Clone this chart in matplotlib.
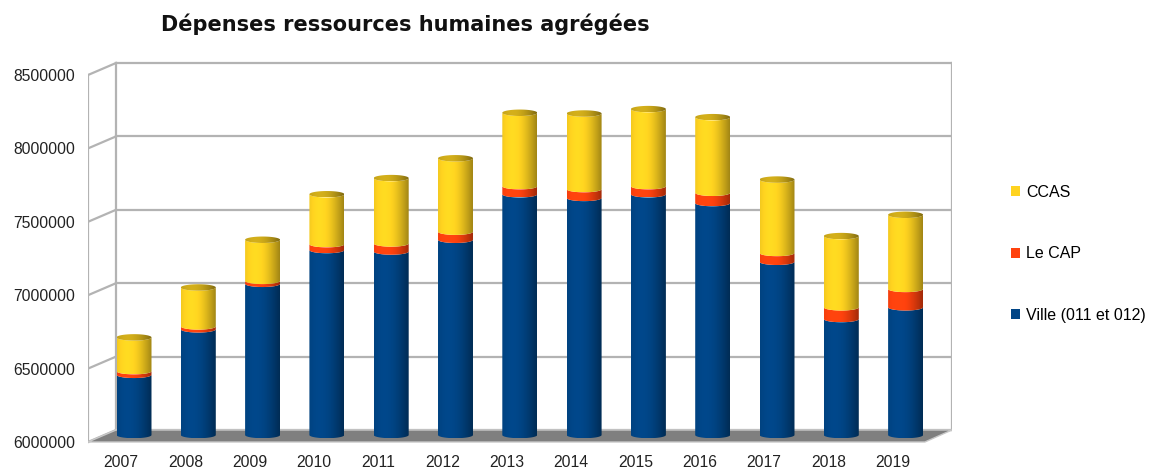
import matplotlib
matplotlib.use("Agg")
import matplotlib.pyplot as plt
import matplotlib.colors as mcolors
from matplotlib.patches import Polygon, Patch
import numpy as np

# values (euros)
years = [2007, 2008, 2009, 2010, 2011, 2012, 2013, 2014, 2015, 2016, 2017, 2018, 2019]
ville = [6410000, 6720000, 7030000, 7260000, 7250000, 7330000, 7640000, 7615000, 7640000, 7580000, 7180000, 6790000, 6870000]
le_cap = [25000, 20000, 20000, 40000, 55000, 55000, 55000, 60000, 55000, 70000, 60000, 80000, 125000]
ccas = [230000, 265000, 280000, 340000, 445000, 500000, 500000, 515000, 525000, 515000, 500000, 485000, 505000]
y_ticks = [6000000, 6500000, 7000000, 7500000, 8000000, 8500000]

series = [("Ville (011 et 012)", ville, "#004586"),
          ("Le CAP", le_cap, "#ff420e"),
          ("CCAS", ccas, "#ffd320")]

W, H = 1159, 473
fig = plt.figure(figsize=(W / 100, H / 100), dpi=100, facecolor="white")
ax = fig.add_axes([88 / W, (H - 445) / H, (952 - 88) / W, (445 - 60) / H])

# fake 3d geometry (in data units)
x_front, x_back = -0.7154, -0.28
x_right_back, x_right_front = 12.72, 12.30
back_dy = 34000      # back wall offset
front_dy = -47700    # front edge offset
grid_col = "#b3b3b3"

# back wall gridlines + frame
for v in y_ticks:
    ax.plot([x_back, x_right_back], [v + back_dy] * 2, color=grid_col, lw=1.6, zorder=1)
    ax.plot([x_front, x_back], [v + front_dy, v + back_dy], color=grid_col, lw=1.6, zorder=1)
ax.plot([x_back, x_back], [y_ticks[0] + back_dy, y_ticks[-1] + back_dy], color=grid_col, lw=1.6, zorder=1)
ax.plot([x_right_back, x_right_back], [y_ticks[0] + back_dy, y_ticks[-1] + back_dy], color=grid_col, lw=1.6, zorder=1)
ax.plot([x_front, x_front], [y_ticks[0] + front_dy, y_ticks[-1] + front_dy], color=grid_col, lw=1.6, zorder=1)

# floor
floor = Polygon([(x_front, y_ticks[0] + front_dy), (x_back, y_ticks[0] + back_dy),
                 (x_right_back, y_ticks[0] + back_dy), (x_right_front, y_ticks[0] + front_dy)],
                closed=True, facecolor="#7f7f7f", edgecolor="#c8c8c8", lw=1, zorder=2)
ax.add_patch(floor)


def shade(color, n=80, dark=1.0):
    # horizontal light profile of a cylinder: bright left-centre, dark right edge
    rgb = np.array(mcolors.to_rgb(color))
    t = np.linspace(0, 1, n)
    m = 0.62 + 0.42 * np.cos((t - 0.3) * np.pi * 0.7)
    m = np.clip(m * dark, 0, 1.04)
    row = np.clip(rgb[None, :] * m[:, None], 0, 1)
    return row[None, :, :]


hw = 0.272
ry = 22000
base = y_ticks[0]

for i in range(len(years)):
    total = 0
    for k, (name, vals, col) in enumerate(series):
        bottom = max(total, base)
        total += vals[i]
        top = total
        th = np.linspace(np.pi, 2 * np.pi, 60)
        bx = i + hw * np.cos(th)
        pts = np.vstack([np.column_stack([bx, bottom + ry * np.sin(th)]),
                         np.column_stack([bx[::-1], top + ry * np.sin(th[::-1])])])
        clip = Polygon(pts, closed=True, facecolor="none", edgecolor="none", transform=ax.transData)
        ax.add_patch(clip)
        im = ax.imshow(shade(col), extent=[i - hw, i + hw, bottom - ry, top + ry],
                       aspect="auto", origin="lower", interpolation="bilinear", zorder=3)
        im.set_clip_path(clip)
        if k == len(series) - 1:
            th2 = np.linspace(0, 2 * np.pi, 80)
            cap_pts = np.column_stack([i + hw * np.cos(th2), top + ry * np.sin(th2)])
            cap = Polygon(cap_pts, closed=True, facecolor="none", edgecolor="none", transform=ax.transData)
            ax.add_patch(cap)
            im2 = ax.imshow(shade(col, dark=0.8), extent=[i - hw, i + hw, top - ry, top + ry],
                            aspect="auto", origin="lower", interpolation="bilinear", zorder=4)
            im2.set_clip_path(cap)

ax.set_xlim(-0.7154, 12.7216)
ax.set_ylim(5931900, 8554500)

ax.set_yticks([v + front_dy for v in y_ticks], labels=[str(v) for v in y_ticks])
ax.set_xticks([i - 0.2 for i in range(len(years))], labels=[str(y) for y in years])
ax.tick_params(axis="y", length=0, pad=9.4, labelsize=11.3, labelcolor="#222222")
ax.tick_params(axis="x", length=0, pad=7, labelsize=11.3, labelcolor="#222222")
for lab in ax.get_xticklabels() + ax.get_yticklabels():
    lab.set_fontfamily("Liberation Sans")
for s in ax.spines.values():
    s.set_visible(False)
ax.set_facecolor("none")

fig.text(405 / W, 1 - 24 / H, "Dépenses ressources humaines agrégées", ha="center", va="center",
         fontsize=15, fontweight="bold", fontfamily="DejaVu Sans", color="#111111")

handles = [Patch(facecolor=c, edgecolor="none", label=n) for n, v, c in series[::-1]]
fig.legend(handles=handles, loc="upper left", bbox_to_anchor=(1003 / W, 1 - 177 / H),
           frameon=False, borderpad=0, handlelength=0.56, handleheight=0.56,
           handletextpad=0.4, labelspacing=2.9,
           prop={"family": "Liberation Sans", "size": 11.5})

fig.savefig("out.png", dpi=100, facecolor="white")
